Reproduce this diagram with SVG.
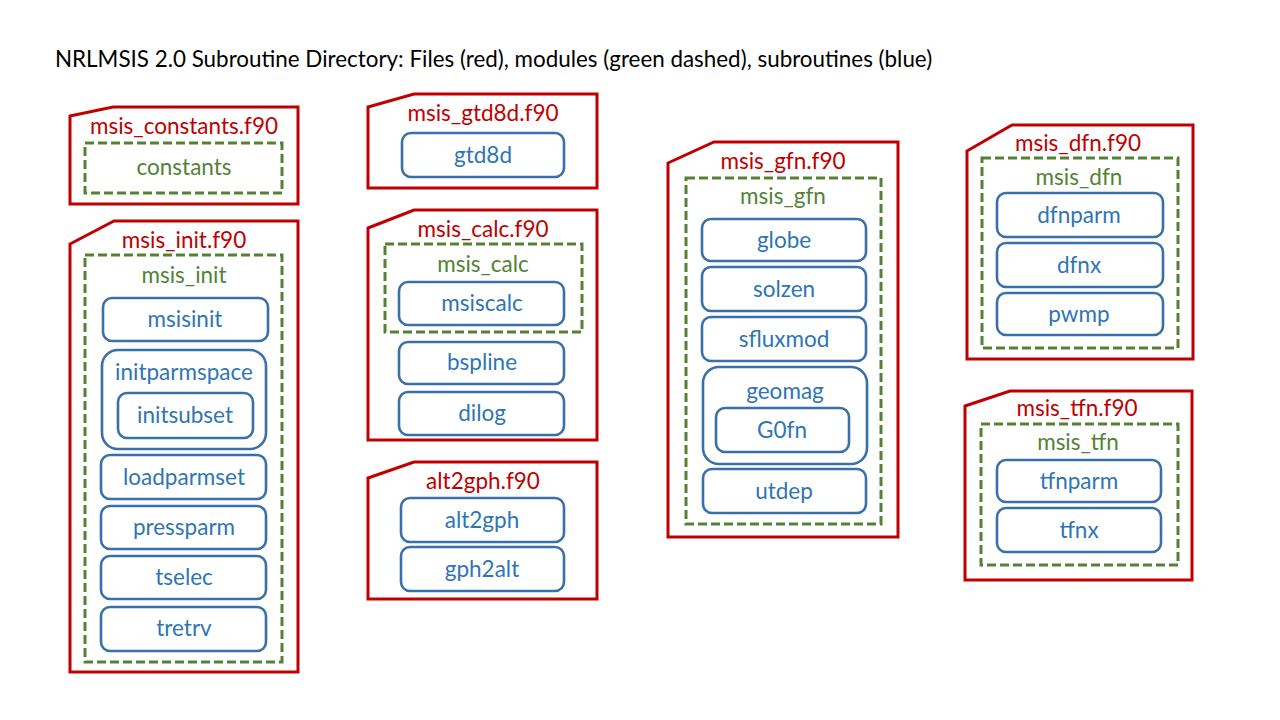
<svg xmlns="http://www.w3.org/2000/svg" width="1280" height="720" viewBox="0 0 1280 720">
<style>
text{font-family:Lato,"Liberation Sans",sans-serif;font-size:22.5px;text-anchor:middle}
.title{font-size:22.4px;text-anchor:start;fill:#000}
.file{fill:#fff;stroke:#C00000;stroke-width:3}
.ft{fill:#C00000}
.mod{fill:none;stroke:#548235;stroke-width:3;stroke-dasharray:9 4}
.mt{fill:#548235}
.sub{fill:#fff;stroke:#3A70AA;stroke-width:2.6}
.st{fill:#2E75B6}
</style>
<rect width="1280" height="720" fill="#fff"/>
<text class="title" x="55" y="67">NRLMSIS 2.0 Subroutine Directory: Files (red), modules (green dashed), subroutines (blue)</text>

<g id="msis_constants">
<path class="file" d="M70,116 L113,107 L298,107 L298,204 L70,204 Z"/>
<text class="ft" x="184" y="134">msis_constants.f90</text>
<rect class="mod" x="85" y="143" width="197" height="50"/>
<text class="mt" x="184" y="175">constants</text>
</g>

<g id="msis_init">
<path class="file" d="M70,244 L114,221 L298,221 L298,672 L70,672 Z"/>
<text class="ft" x="184" y="248">msis_init.f90</text>
<rect class="mod" x="85" y="255" width="197" height="407"/>
<text class="mt" x="184" y="283">msis_init</text>
<rect class="sub" x="103" y="298" width="165" height="43" rx="9"/>
<text class="st" x="185" y="327">msisinit</text>
<rect class="sub" x="102" y="350" width="164" height="99" rx="16"/>
<text class="st" x="184" y="380">initparmspace</text>
<rect class="sub" x="118" y="393" width="135" height="45" rx="9"/>
<text class="st" x="185" y="423">initsubset</text>
<rect class="sub" x="101" y="455" width="165" height="44" rx="9"/>
<text class="st" x="184" y="485">loadparmset</text>
<rect class="sub" x="101" y="506" width="165" height="43" rx="9"/>
<text class="st" x="184" y="535">pressparm</text>
<rect class="sub" x="101" y="556" width="165" height="43" rx="9"/>
<text class="st" x="184" y="585">tselec</text>
<rect class="sub" x="101" y="607" width="165" height="44" rx="9"/>
<text class="st" x="184" y="636">tretrv</text>
</g>

<g id="msis_gtd8d">
<path class="file" d="M368,107 L414,94 L597,94 L597,188 L368,188 Z"/>
<text class="ft" x="483" y="121">msis_gtd8d.f90</text>
<rect class="sub" x="402" y="133" width="162" height="44" rx="9"/>
<text class="st" x="483" y="163">gtd8d</text>
</g>

<g id="msis_calc">
<path class="file" d="M368,228 L414,210 L597,210 L597,440 L368,440 Z"/>
<text class="ft" x="483" y="237">msis_calc.f90</text>
<rect class="mod" x="385" y="244" width="197" height="88"/>
<text class="mt" x="483" y="272">msis_calc</text>
<rect class="sub" x="399" y="282" width="165" height="43" rx="9"/>
<text class="st" x="482" y="311">msiscalc</text>
<rect class="sub" x="399" y="342" width="165" height="42" rx="9"/>
<text class="st" x="482" y="370">bspline</text>
<rect class="sub" x="399" y="392" width="165" height="43" rx="9"/>
<text class="st" x="482" y="421">dilog</text>
</g>

<g id="alt2gph">
<path class="file" d="M368,478 L414,462 L597,462 L597,599 L368,599 Z"/>
<text class="ft" x="483" y="489">alt2gph.f90</text>
<rect class="sub" x="401" y="498" width="163" height="44" rx="9"/>
<text class="st" x="482" y="528">alt2gph</text>
<rect class="sub" x="401" y="547" width="163" height="44" rx="9"/>
<text class="st" x="482" y="577">gph2alt</text>
</g>

<g id="msis_gfn">
<path class="file" d="M668,163 L714,142 L898,142 L898,537 L668,537 Z"/>
<text class="ft" x="783" y="169">msis_gfn.f90</text>
<rect class="mod" x="686" y="178" width="195" height="346"/>
<text class="mt" x="783" y="204">msis_gfn</text>
<rect class="sub" x="702" y="219" width="164" height="42" rx="9"/>
<text class="st" x="784" y="248">globe</text>
<rect class="sub" x="702" y="267" width="164" height="44" rx="9"/>
<text class="st" x="784" y="297">solzen</text>
<rect class="sub" x="702" y="317" width="164" height="44" rx="9"/>
<text class="st" x="784" y="347">sfluxmod</text>
<rect class="sub" x="703" y="367" width="164" height="97" rx="16"/>
<text class="st" x="785" y="399">geomag</text>
<rect class="sub" x="716" y="408" width="133" height="44" rx="9"/>
<text class="st" x="782" y="438">G0fn</text>
<rect class="sub" x="703" y="469" width="163" height="44" rx="9"/>
<text class="st" x="784" y="499">utdep</text>
</g>

<g id="msis_dfn">
<path class="file" d="M967,151 L1012,125 L1193,125 L1193,359 L967,359 Z"/>
<text class="ft" x="1078" y="151">msis_dfn.f90</text>
<rect class="mod" x="982" y="158" width="196" height="190"/>
<text class="mt" x="1079" y="185">msis_dfn</text>
<rect class="sub" x="997" y="193" width="166" height="44" rx="9"/>
<text class="st" x="1079" y="223">dfnparm</text>
<rect class="sub" x="997" y="243" width="166" height="44" rx="9"/>
<text class="st" x="1079" y="273">dfnx</text>
<rect class="sub" x="997" y="293" width="166" height="42" rx="9"/>
<text class="st" x="1079" y="322">pwmp</text>
</g>

<g id="msis_tfn">
<path class="file" d="M965,406 L1010,391 L1192,391 L1192,580 L965,580 Z"/>
<text class="ft" x="1077" y="416">msis_tfn.f90</text>
<rect class="mod" x="981" y="424" width="197" height="141"/>
<text class="mt" x="1078" y="450">msis_tfn</text>
<rect class="sub" x="997" y="460" width="164" height="42" rx="9"/>
<text class="st" x="1079" y="489">tfnparm</text>
<rect class="sub" x="997" y="508" width="164" height="44" rx="9"/>
<text class="st" x="1079" y="538">tfnx</text>
</g>

<g id="connectors"></g>
</svg>
